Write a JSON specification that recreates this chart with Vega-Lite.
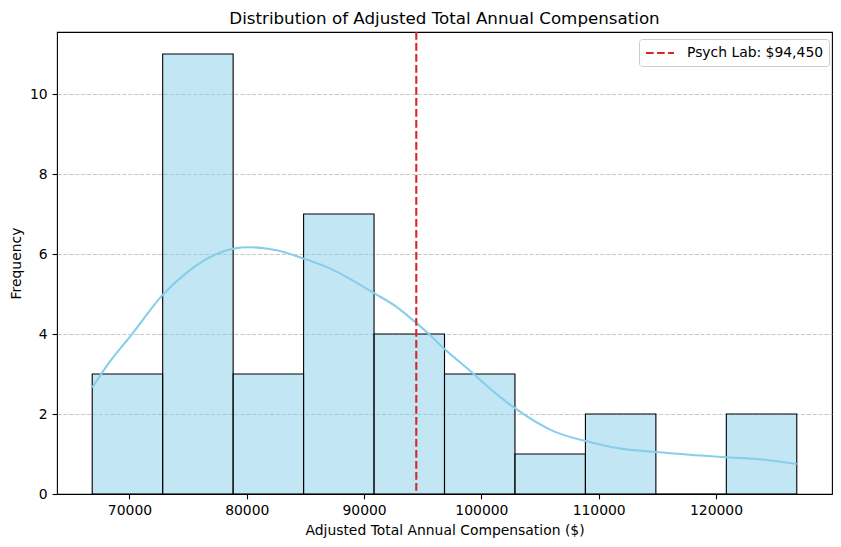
{
  "$schema": "https://vega.github.io/schema/vega-lite/v6.json",
  "width": 775,
  "height": 462,
  "autosize": {"type": "none"},
  "padding": {"left": 57, "top": 32, "right": 9, "bottom": 53},
  "background": "white",
  "config": {
    "font": "DejaVu Sans",
    "view": {"stroke": "black", "strokeWidth": 1.1},
    "axis": {
      "labelFont": "DejaVu Sans",
      "labelFontSize": 13.9,
      "labelColor": "black",
      "titleFont": "DejaVu Sans",
      "titleFontSize": 13.9,
      "titleFontWeight": "normal",
      "titleColor": "black",
      "tickColor": "black",
      "tickSize": 4.9,
      "tickWidth": 1.1,
      "labelPadding": 4.9,
      "domain": false
    }
  },
  "title": {
    "text": "Distribution of Adjusted Total Annual Compensation",
    "font": "DejaVu Sans",
    "fontSize": 16.7,
    "fontWeight": "normal",
    "color": "black",
    "anchor": "middle",
    "baseline": "bottom",
    "offset": -14
  },
  "datasets": {
    "bins": [
      {"bin_start": 66826, "bin_end": 72832, "count": 3},
      {"bin_start": 72832, "bin_end": 78838, "count": 11},
      {"bin_start": 78838, "bin_end": 84844, "count": 3},
      {"bin_start": 84844, "bin_end": 90850, "count": 7},
      {"bin_start": 90850, "bin_end": 96856, "count": 4},
      {"bin_start": 96856, "bin_end": 102862, "count": 3},
      {"bin_start": 102862, "bin_end": 108868, "count": 1},
      {"bin_start": 108868, "bin_end": 114874, "count": 2},
      {"bin_start": 114874, "bin_end": 120880, "count": 0},
      {"bin_start": 120880, "bin_end": 126886, "count": 2}
    ],
    "kde": [
      {"salary": 66826, "density": 2.66},
      {"salary": 68357, "density": 3.32},
      {"salary": 70170, "density": 3.98},
      {"salary": 72868, "density": 4.99},
      {"salary": 74996, "density": 5.56},
      {"salary": 77268, "density": 5.98},
      {"salary": 78970, "density": 6.14},
      {"salary": 80102, "density": 6.17},
      {"salary": 81804, "density": 6.13},
      {"salary": 83506, "density": 6.02},
      {"salary": 84809, "density": 5.89},
      {"salary": 87081, "density": 5.64},
      {"salary": 90851, "density": 5.02},
      {"salary": 92757, "density": 4.68},
      {"salary": 94400, "density": 4.29},
      {"salary": 95591, "density": 3.98},
      {"salary": 96809, "density": 3.64},
      {"salary": 99277, "density": 3.02},
      {"salary": 100400, "density": 2.72},
      {"salary": 102885, "density": 2.14},
      {"salary": 106230, "density": 1.56},
      {"salary": 108809, "density": 1.33},
      {"salary": 111762, "density": 1.14},
      {"salary": 114851, "density": 1.05},
      {"salary": 120809, "density": 0.92},
      {"salary": 123677, "density": 0.87},
      {"salary": 126885, "density": 0.75}
    ],
    "ref": [{"value": 94450, "label": "Psych Lab: $94,450"}]
  },
  "layer": [
    {
      "data": {"name": "bins"},
      "mark": {"type": "rect", "fill": "#87CEEB", "fillOpacity": 0.5, "stroke": "black", "strokeWidth": 1.1},
      "encoding": {
        "x": {
          "field": "bin_start",
          "type": "quantitative",
          "scale": {"domain": [63823, 129888], "nice": false, "zero": false},
          "axis": {
            "values": [70000, 80000, 90000, 100000, 110000, 120000],
            "format": "d",
            "grid": false,
            "titlePadding": 5.6,
            "domain": true,
            "domainColor": "black",
            "domainWidth": 1.1,
            "zindex": 1
          },
          "title": "Adjusted Total Annual Compensation ($)"
        },
        "x2": {"field": "bin_end"},
        "y": {
          "field": "count",
          "type": "quantitative",
          "scale": {"domain": [0, 11.55], "nice": false, "zero": true},
          "axis": {
            "values": [0, 2, 4, 6, 8, 10],
            "grid": true,
            "gridDash": [4.1, 1.8],
            "gridColor": "#b0b0b0",
            "gridOpacity": 0.7,
            "gridWidth": 1.1,
            "titlePadding": 6
          },
          "title": "Frequency"
        },
        "y2": {"datum": 0}
      }
    },
    {
      "data": {"name": "kde"},
      "mark": {"type": "line", "color": "#87CEEB", "strokeWidth": 2.1, "interpolate": "monotone"},
      "encoding": {
        "x": {"field": "salary", "type": "quantitative", "title": "Adjusted Total Annual Compensation ($)"},
        "y": {"field": "density", "type": "quantitative", "title": "Frequency"}
      }
    },
    {
      "data": {"name": "ref"},
      "mark": {"type": "rule", "strokeDash": [7.7, 3.3], "strokeWidth": 2.1},
      "encoding": {
        "x": {"field": "value", "type": "quantitative", "title": "Adjusted Total Annual Compensation ($)"},
        "color": {
          "field": "label",
          "type": "nominal",
          "scale": {"range": ["#d62728"]},
          "legend": {
            "title": null,
            "orient": "none",
            "legendX": 582,
            "legendY": 7,
            "symbolType": "M-2,0H2",
            "symbolSize": 196,
            "symbolOffset": 7,
            "symbolStrokeWidth": 2.1,
            "symbolDash": [7.7, 3.3],
            "symbolFillColor": "transparent",
            "labelFont": "DejaVu Sans",
            "labelFontSize": 13.9,
            "labelColor": "black",
            "labelOffset": 18.5,
            "padding": 5.5,
            "fillColor": "rgba(255,255,255,0.8)",
            "strokeColor": "#cccccc",
            "cornerRadius": 3
          }
        }
      }
    }
  ]
}
